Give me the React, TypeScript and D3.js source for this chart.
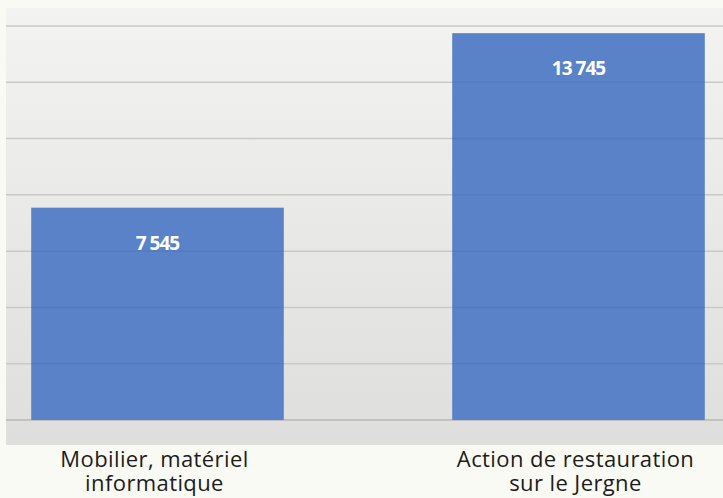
import { useEffect, useRef } from "react";
import * as d3 from "d3";

const categories = [
  ["Mobilier, matériel", "informatique"],
  ["Action de restauration", "sur le Jergne"],
];
const values = [7545, 13745];
const valueLabels = ["7 545", "13 745"];
const yTicks = [0, 2000, 4000, 6000, 8000, 10000, 12000, 14000];

export default function App() {
  const svgRef = useRef<SVGSVGElement>(null);

  useEffect(() => {
    if (!svgRef.current) return;
    const width = 723;
    const height = 498;
    const svg = d3.select(svgRef.current);
    svg.selectAll("*").remove();

    const plot = { left: 6, top: 8, right: 723, bottom: 445 };

    // y: zero at 420, 14000 at 26
    const y = d3.scaleLinear().domain([0, 14000]).range([420, 26]);
    // x: chart is cropped on both sides, so the band range runs past the picture
    const x = d3
      .scaleBand<number>()
      .domain(values.map((_, i) => i))
      .range([-53, 789])
      .paddingInner(0.4)
      .paddingOuter(0.2);

    const defs = svg.append("defs");
    const grad = defs
      .append("linearGradient")
      .attr("id", "bg")
      .attr("x1", 0)
      .attr("y1", 0)
      .attr("x2", 0)
      .attr("y2", 1);
    grad.append("stop").attr("offset", "0%").attr("stop-color", "#f3f3f2");
    grad.append("stop").attr("offset", "100%").attr("stop-color", "#dededd");

    svg.append("rect").attr("width", width).attr("height", height).attr("fill", "#fafaf4");

    svg
      .append("rect")
      .attr("x", plot.left)
      .attr("y", plot.top)
      .attr("width", plot.right - plot.left)
      .attr("height", plot.bottom - plot.top)
      .attr("fill", "url(#bg)");

    // Gridlines
    svg
      .append("g")
      .selectAll("line")
      .data(yTicks)
      .join("line")
      .attr("x1", plot.left)
      .attr("x2", plot.right)
      .attr("y1", (d) => y(d))
      .attr("y2", (d) => y(d))
      .attr("stroke", (d) => (d === 0 ? "#b9b9b9" : "#c9c9c9"))
      .attr("stroke-width", 1.5);

    // Bars
    svg
      .append("g")
      .selectAll("rect")
      .data(values)
      .join("rect")
      .attr("x", (_, i) => x(i) as number)
      .attr("y", (d) => y(d))
      .attr("width", x.bandwidth())
      .attr("height", (d) => y(0) - y(d))
      .attr("fill", "#5a82c8");

    // faint gridlines showing through the bars
    svg
      .append("g")
      .selectAll("line")
      .data(values.flatMap((v, i) => yTicks.filter((t) => t > 0 && t < v).map((t) => ({ t, i }))))
      .join("line")
      .attr("x1", (d) => x(d.i) as number)
      .attr("x2", (d) => (x(d.i) as number) + x.bandwidth())
      .attr("y1", (d) => y(d.t))
      .attr("y2", (d) => y(d.t))
      .attr("stroke", "#4a6fae")
      .attr("stroke-opacity", 0.35)
      .attr("stroke-width", 1.5);

    // Value labels
    svg
      .append("g")
      .selectAll("text")
      .data(values)
      .join("text")
      .attr("x", (_, i) => (x(i) as number) + x.bandwidth() / 2)
      .attr("y", (d) => y(d) + 42)
      .attr("text-anchor", "middle")
      .attr("fill", "#ffffff")
      .attr("font-family", "'Open Sans', sans-serif")
      .attr("font-weight", 700)
      .attr("font-size", 19)
      .attr("letter-spacing", -1)
      .text((_, i) => valueLabels[i]);

    // Category labels
    const cat = svg
      .append("g")
      .selectAll("text")
      .data(categories)
      .join("text")
      .attr("x", (_, i) => (x(i) as number) + x.bandwidth() / 2 - 3)
      .attr("text-anchor", "middle")
      .attr("fill", "#1c1c1c")
      .attr("font-family", "'Open Sans', sans-serif")
      .attr("font-size", 22)
      .attr("letter-spacing", 0.4);
    cat
      .selectAll("tspan")
      .data((d) => d)
      .join("tspan")
      .attr("x", function () {
        return (this.parentNode as SVGTextElement).getAttribute("x");
      })
      .attr("y", (_, j) => 467 + j * 24)
      .text((d) => d);
  }, []);

  return (
    <svg
      ref={svgRef}
      width={723}
      height={498}
      style={{ position: "absolute", left: 0, top: 0, display: "block" }}
    />
  );
}
